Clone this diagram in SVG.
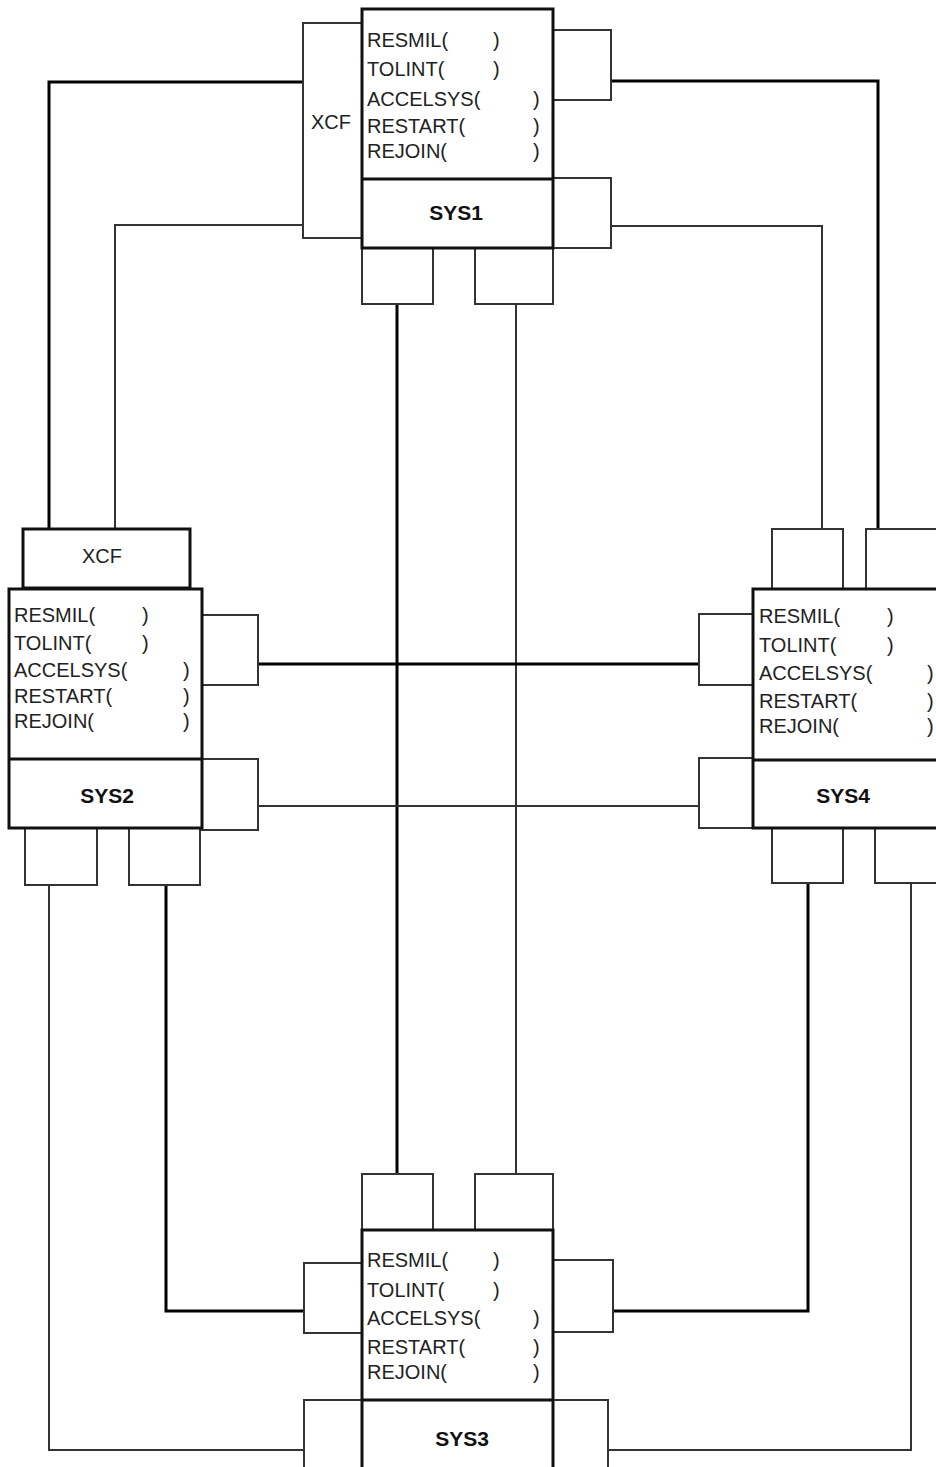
<svg xmlns="http://www.w3.org/2000/svg" width="936" height="1467" viewBox="0 0 936 1467">
<style>
.bg{fill:#fff}
.main{fill:#fff;stroke:#111;stroke-width:3}
.div{stroke:#111;stroke-width:3}
.port{fill:#fff;stroke:#333;stroke-width:2}
.thin{fill:none;stroke:#333;stroke-width:2}
.thick{fill:none;stroke:#000;stroke-width:3}
.t{font-family:"Liberation Sans",Arial,sans-serif;font-size:20px;fill:#222}
.b{font-family:"Liberation Sans",Arial,sans-serif;font-size:21px;font-weight:bold;fill:#111;text-anchor:middle}
.c{text-anchor:middle}
</style>
<rect class="bg" x="0" y="0" width="936" height="1467"/>
<g id="connectors">
<polyline class="thick" points="303,82 49,82 49,529"/>
<polyline class="thin" points="303,225 115,225 115,529"/>
<polyline class="thick" points="611,81 878,81 878,529"/>
<polyline class="thin" points="611,226 822,226 822,529"/>
<line class="thick" x1="397" y1="304" x2="397" y2="1174"/>
<line class="thin" x1="516" y1="304" x2="516" y2="1174"/>
<line class="thick" x1="258" y1="664" x2="699" y2="664"/>
<line class="thin" x1="258" y1="806" x2="699" y2="806"/>
<polyline class="thin" points="49,885 49,1450 304,1450"/>
<polyline class="thick" points="166,885 166,1311 304,1311"/>
<polyline class="thick" points="808,883 808,1311 613,1311"/>
<polyline class="thin" points="911,883 911,1450 608,1450"/>
</g>
<g id="sys1">
<rect class="port" x="303" y="23" width="59" height="215"/>
<text class="t" x="311" y="129">XCF</text>
<rect class="port" x="553" y="30" width="58" height="70"/>
<rect class="port" x="553" y="178" width="58" height="70"/>
<rect class="port" x="362" y="248" width="71" height="56"/>
<rect class="port" x="475" y="248" width="78" height="56"/>
<rect class="main" x="362" y="9" width="191" height="239"/>
<line class="div" x1="362" y1="179" x2="553" y2="179"/>
<text class="t" x="367" y="47">RESMIL(</text><text class="t" x="493" y="47">)</text>
<text class="t" x="367" y="76">TOLINT(</text><text class="t" x="493" y="76">)</text>
<text class="t" x="367" y="106">ACCELSYS(</text><text class="t" x="533" y="106">)</text>
<text class="t" x="367" y="133">RESTART(</text><text class="t" x="533" y="133">)</text>
<text class="t" x="367" y="158">REJOIN(</text><text class="t" x="533" y="158">)</text>
<text class="b" x="456" y="220">SYS1</text>
</g>
<g id="sys2">
<rect class="main" x="23" y="529" width="167" height="59"/>
<text class="t c" x="102" y="563">XCF</text>
<rect class="port" x="202" y="615" width="56" height="70"/>
<rect class="port" x="202" y="759" width="56" height="71"/>
<rect class="port" x="25" y="828" width="72" height="57"/>
<rect class="port" x="129" y="828" width="71" height="57"/>
<rect class="main" x="9" y="589" width="193" height="239"/>
<line class="div" x1="9" y1="759" x2="202" y2="759"/>
<text class="t" x="14" y="622">RESMIL(</text><text class="t" x="142" y="622">)</text>
<text class="t" x="14" y="650">TOLINT(</text><text class="t" x="142" y="650">)</text>
<text class="t" x="14" y="677">ACCELSYS(</text><text class="t" x="183" y="677">)</text>
<text class="t" x="14" y="703">RESTART(</text><text class="t" x="183" y="703">)</text>
<text class="t" x="14" y="728">REJOIN(</text><text class="t" x="183" y="728">)</text>
<text class="b" x="107" y="803">SYS2</text>
</g>
<g id="sys4">
<rect class="port" x="772" y="529" width="71" height="60"/>
<rect class="port" x="866" y="529" width="80" height="60"/>
<rect class="port" x="699" y="614" width="54" height="71"/>
<rect class="port" x="699" y="758" width="54" height="70"/>
<rect class="port" x="772" y="828" width="71" height="55"/>
<rect class="port" x="875" y="828" width="80" height="55"/>
<rect class="main" x="753" y="589" width="191" height="239"/>
<line class="div" x1="753" y1="760" x2="944" y2="760"/>
<text class="t" x="759" y="623">RESMIL(</text><text class="t" x="887" y="623">)</text>
<text class="t" x="759" y="652">TOLINT(</text><text class="t" x="887" y="652">)</text>
<text class="t" x="759" y="680">ACCELSYS(</text><text class="t" x="927" y="680">)</text>
<text class="t" x="759" y="708">RESTART(</text><text class="t" x="927" y="708">)</text>
<text class="t" x="759" y="733">REJOIN(</text><text class="t" x="927" y="733">)</text>
<text class="b" x="843" y="803">SYS4</text>
</g>
<g id="sys3">
<rect class="port" x="362" y="1174" width="71" height="56"/>
<rect class="port" x="475" y="1174" width="78" height="56"/>
<rect class="port" x="304" y="1263" width="58" height="70"/>
<rect class="port" x="553" y="1260" width="60" height="72"/>
<rect class="port" x="304" y="1400" width="58" height="80"/>
<rect class="port" x="553" y="1400" width="55" height="80"/>
<rect class="main" x="362" y="1230" width="191" height="250"/>
<line class="div" x1="362" y1="1400" x2="553" y2="1400"/>
<text class="t" x="367" y="1267">RESMIL(</text><text class="t" x="493" y="1267">)</text>
<text class="t" x="367" y="1297">TOLINT(</text><text class="t" x="493" y="1297">)</text>
<text class="t" x="367" y="1325">ACCELSYS(</text><text class="t" x="533" y="1325">)</text>
<text class="t" x="367" y="1354">RESTART(</text><text class="t" x="533" y="1354">)</text>
<text class="t" x="367" y="1379">REJOIN(</text><text class="t" x="533" y="1379">)</text>
<text class="b" x="462" y="1446">SYS3</text>
</g>
</svg>
